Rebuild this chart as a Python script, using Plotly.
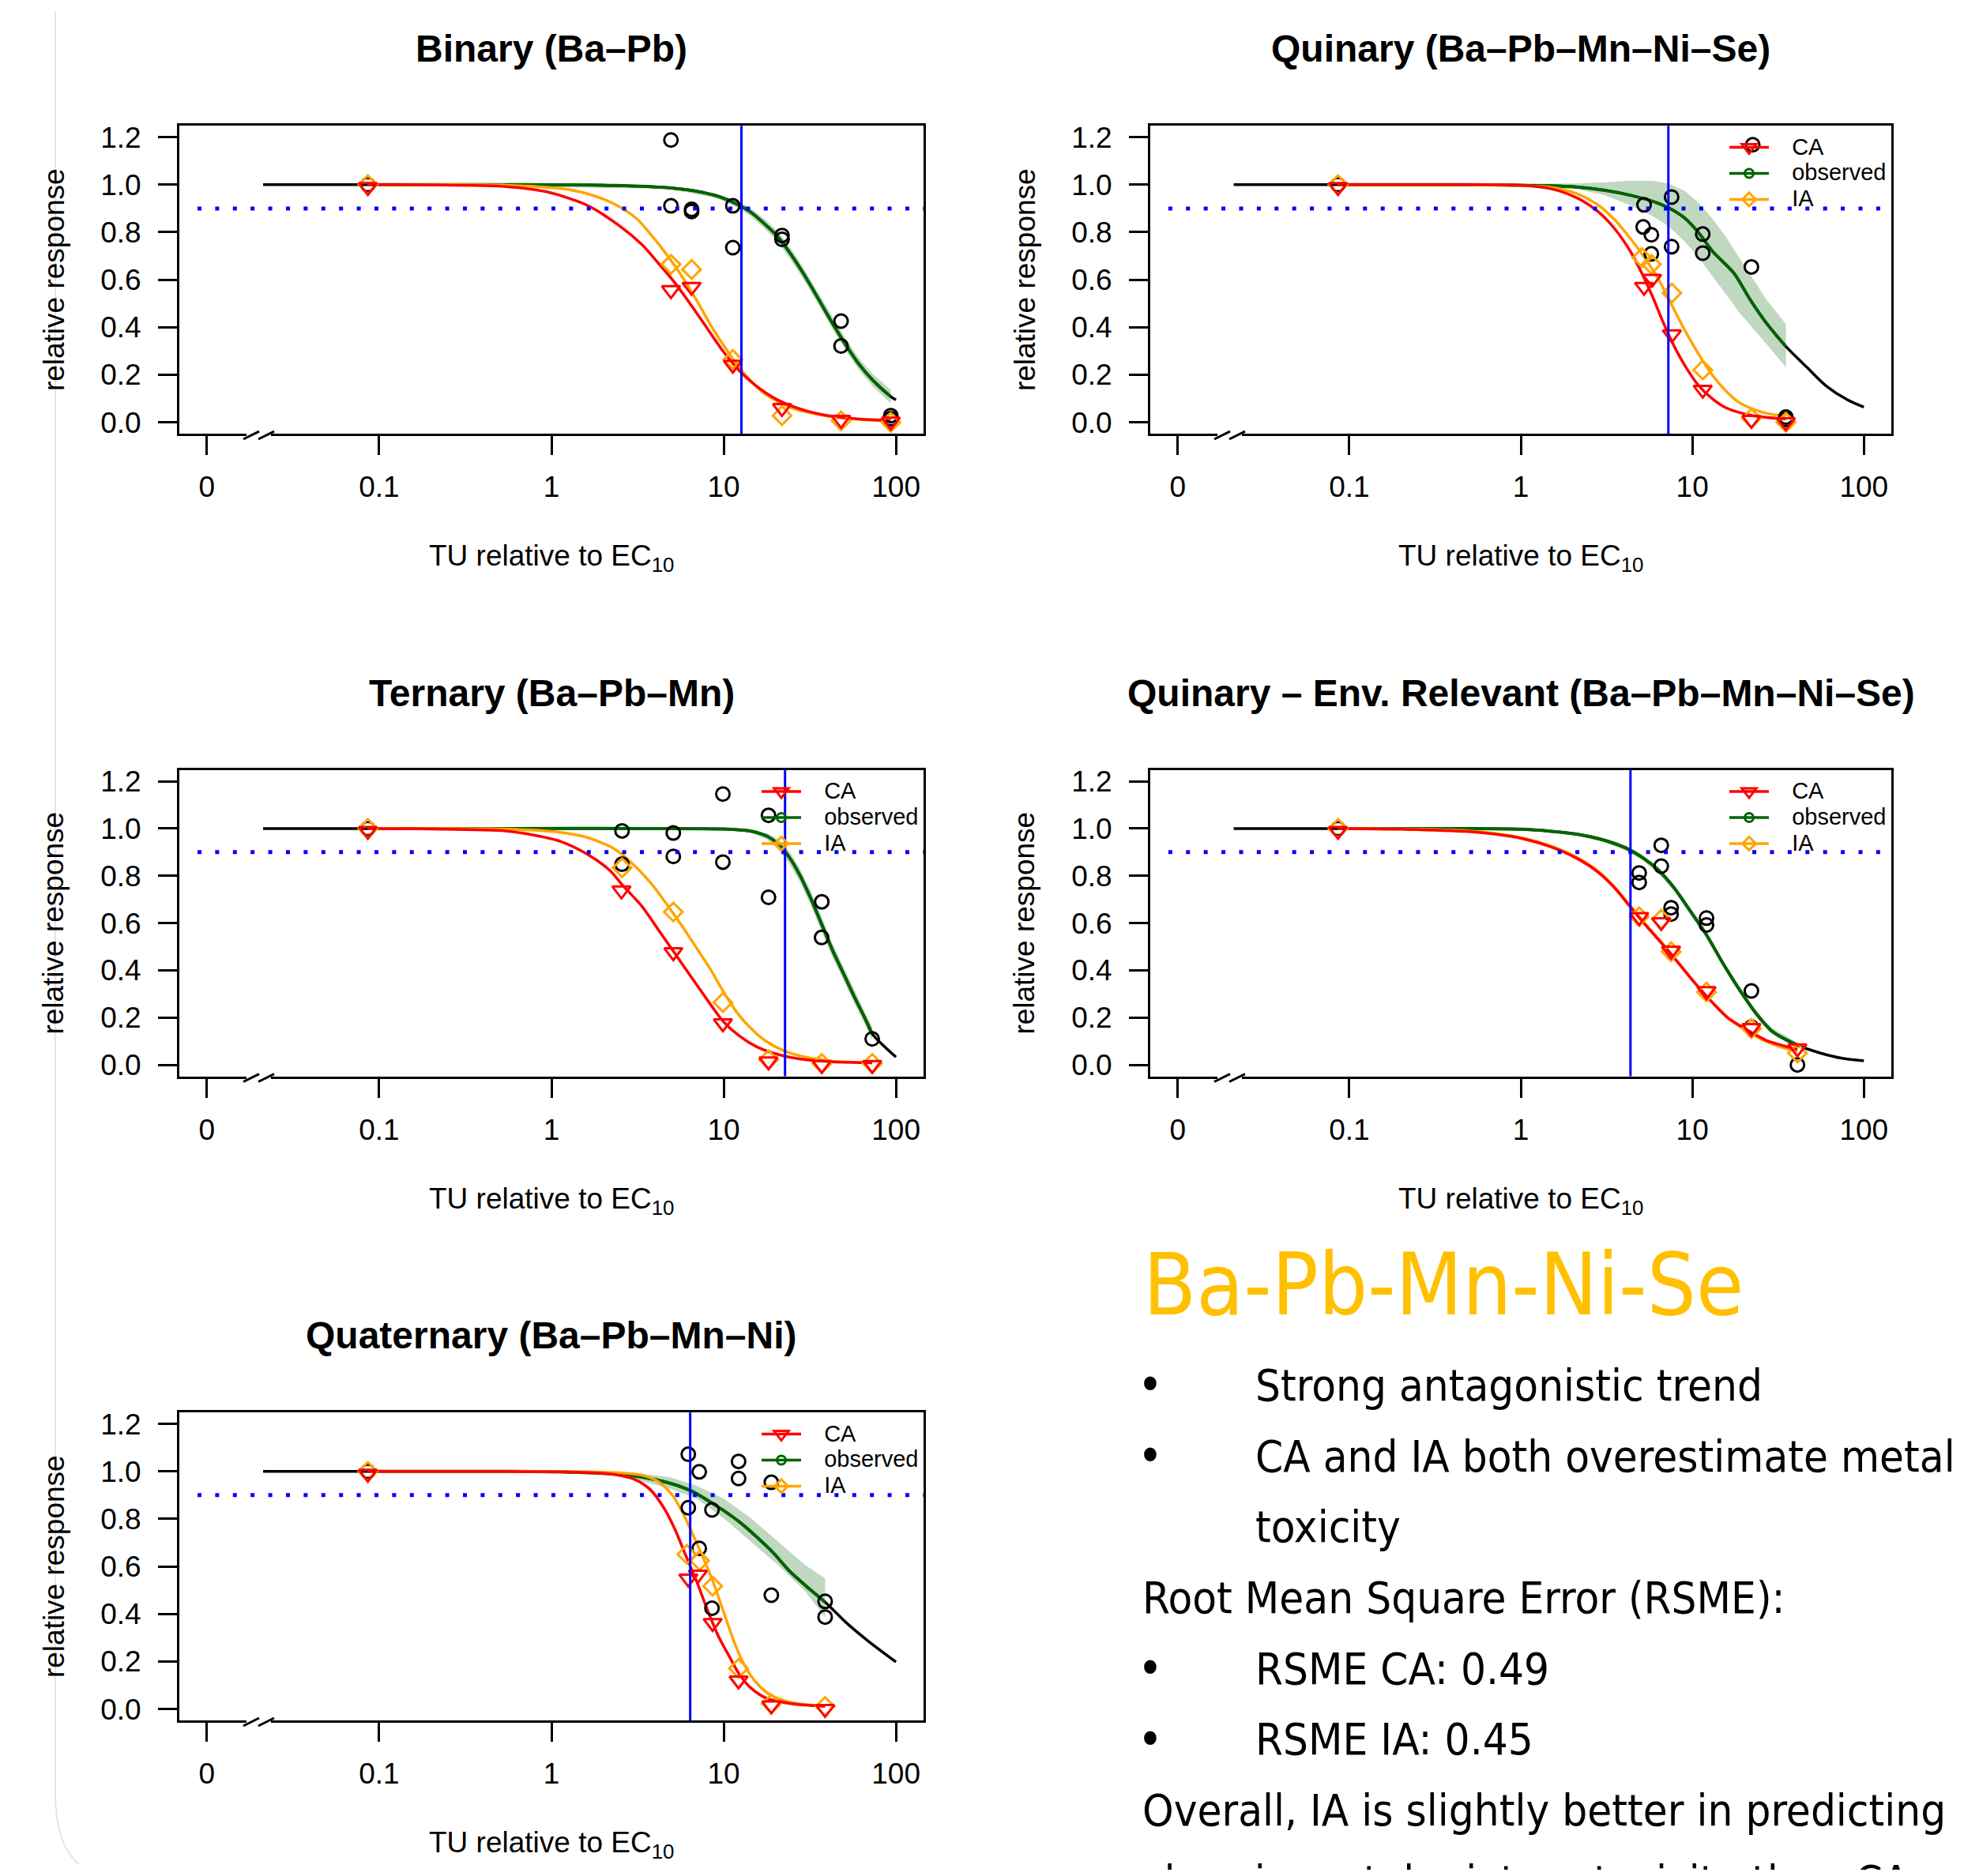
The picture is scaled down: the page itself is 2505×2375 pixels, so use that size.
import plotly.graph_objects as go

# ------------------------------------------------------------------ data
ctrl = 0.086
x_tickvals = [0.01, 0.1, 1, 10, 100]
x_ticktext = ["0", "0.1", "1", "10", "100"]
y_tickvals = [0, 0.2, 0.4, 0.6, 0.8, 1.0, 1.2]
y_ticktext = ["0.0", "0.2", "0.4", "0.6", "0.8", "1.0", "1.2"]

titles = ["Binary (Ba\u2013Pb)", "Quinary (Ba\u2013Pb\u2013Mn\u2013Ni\u2013Se)", "Ternary (Ba\u2013Pb\u2013Mn)",
          "Quinary \u2013 Env. Relevant (Ba\u2013Pb\u2013Mn\u2013Ni\u2013Se)", "Quaternary (Ba\u2013Pb\u2013Mn\u2013Ni)"]
legend_labels = ["CA", "observed", "IA"]

# --- Binary
bin_obs_x = [ctrl, 4.94, 4.94, 6.51, 6.51, 11.3, 11.3, 21.8, 21.8, 48, 48, 93.3, 93.3]
bin_obs_y = [1.0, 1.188, 0.911, 0.896, 0.887, 0.911, 0.735, 0.786, 0.770, 0.426, 0.321, 0.028, 0.015]
bin_ca_x = [ctrl, 4.94, 6.51, 11.3, 21.8, 48, 93.3]
bin_ca_y = [0.99, 0.556, 0.570, 0.242, 0.06, 0.01, 0.003]
bin_ia_x = [ctrl, 4.94, 6.51, 11.3, 21.8, 48, 93.3]
bin_ia_y = [1.0, 0.665, 0.643, 0.264, 0.028, 0.006, 0.0]
bin_ca_curve_x = [ctrl, 0.2, 0.543, 0.937, 1.616, 2.50, 3.346, 4.16, 5.18, 6.44, 8.01, 9.96, 12.4, 15.4, 20.6, 29.6, 42.7, 61.4, 93.3]
bin_ca_curve_y = [1.0, 0.999, 0.992, 0.970, 0.913, 0.825, 0.748, 0.671, 0.589, 0.495, 0.396, 0.297, 0.215, 0.154, 0.094, 0.050, 0.025, 0.014, 0.008]
bin_ia_curve_x = [ctrl, 0.2, 0.543, 1.124, 1.616, 2.326, 3.11, 3.87, 4.81, 5.57, 6.92, 8.61, 10.33, 11.95, 14.3, 17.2, 24.7, 42.7, 93.3]
bin_ia_curve_y = [1.0, 1.0, 0.998, 0.984, 0.962, 0.918, 0.858, 0.781, 0.693, 0.627, 0.517, 0.396, 0.308, 0.242, 0.176, 0.121, 0.061, 0.023, 0.004]
bin_fit_x = [0.0212, ctrl, 0.543, 2.326, 4.81, 6.92, 9.27, 11.95, 14.3, 17.2, 20.6, 24.7, 29.6, 35.6, 42.7, 51.2, 61.4, 73.6, 93.3, 100]
bin_fit_y = [1.0, 1.0, 1.0, 0.997, 0.987, 0.973, 0.951, 0.918, 0.885, 0.836, 0.781, 0.704, 0.616, 0.517, 0.418, 0.325, 0.242, 0.176, 0.108, 0.094]
bin_band_x = [ctrl, 4.81, 9.27, 11.95, 14.3, 17.2, 20.6, 24.7, 29.6, 35.6, 42.7, 51.2, 61.4, 73.6, 93.3]
bin_band_hi = [1.0, 0.991, 0.960, 0.932, 0.902, 0.856, 0.803, 0.728, 0.640, 0.541, 0.442, 0.349, 0.267, 0.202, 0.137]
bin_band_lo = [1.0, 0.983, 0.942, 0.904, 0.868, 0.816, 0.759, 0.680, 0.592, 0.493, 0.394, 0.301, 0.217, 0.150, 0.079]
bin_ec10 = 12.67

# --- Quinary
qui_obs_x = [ctrl, 5.23, 5.17, 5.77, 5.77, 7.57, 7.57, 11.5, 11.5, 22.5, 22.1, 35.1, 35.1]
qui_obs_y = [1.0, 0.915, 0.822, 0.789, 0.709, 0.948, 0.739, 0.792, 0.712, 1.168, 0.654, 0.022, 0.012]
qui_ca_x = [ctrl, 5.23, 5.83, 7.6, 11.5, 22.1, 35.1]
qui_ca_y = [0.99, 0.570, 0.604, 0.37, 0.137, 0.01, 0.0]
qui_ia_x = [ctrl, 5.08, 5.77, 7.6, 11.5, 22.1, 35.1]
qui_ia_y = [1.0, 0.693, 0.665, 0.544, 0.220, 0.017, 0.0]
qui_ca_curve_x = [ctrl, 0.2, 0.496, 1.026, 1.475, 2.12, 2.84, 3.53, 4.39, 5.08, 5.87, 6.79, 7.85, 9.08, 10.9, 13.1, 15.7, 22.5, 35.1]
qui_ca_curve_y = [1.0, 1.0, 1.0, 0.997, 0.984, 0.945, 0.885, 0.814, 0.715, 0.627, 0.528, 0.418, 0.319, 0.237, 0.154, 0.099, 0.061, 0.028, 0.014]
qui_ia_curve_x = [ctrl, 0.2, 0.496, 1.475, 2.12, 2.84, 3.53, 4.39, 5.27, 6.32, 7.57, 9.08, 10.9, 13.1, 15.7, 18.8, 25.1, 35.1]
qui_ia_curve_y = [1.0, 1.0, 1.0, 0.989, 0.962, 0.913, 0.852, 0.770, 0.693, 0.605, 0.495, 0.385, 0.286, 0.198, 0.132, 0.083, 0.044, 0.024]
qui_fit_x = [0.0212, ctrl, 0.496, 1.475, 2.12, 3.05, 4.39, 5.87, 7.30, 9.08, 10.9, 13.1, 17.5, 21.7, 27.0, 35.1, 46.6, 60.1, 80.4, 100]
qui_fit_y = [1.0, 1.0, 1.0, 0.995, 0.990, 0.977, 0.955, 0.930, 0.902, 0.858, 0.797, 0.720, 0.627, 0.517, 0.418, 0.319, 0.231, 0.154, 0.094, 0.064]
qui_band_x = [ctrl, 1.026, 2.12, 3.05, 4.39, 5.87, 7.30, 9.08, 10.9, 13.1, 15.7, 18.8, 22.5, 27.0, 35.1]
qui_band_hi = [1.0, 1.002, 1.005, 1.010, 1.017, 1.016, 1.004, 0.973, 0.923, 0.857, 0.780, 0.692, 0.605, 0.517, 0.413]
qui_band_lo = [1.0, 0.995, 0.981, 0.957, 0.912, 0.868, 0.824, 0.759, 0.693, 0.616, 0.539, 0.462, 0.396, 0.330, 0.231]
qui_ec10 = 7.25

# --- Ternary
ter_obs_x = [ctrl, 2.57, 2.57, 5.10, 5.10, 9.89, 9.89, 18.2, 18.2, 37.1, 37.0, 72.8]
ter_obs_y = [1.0, 0.990, 0.849, 0.981, 0.882, 1.146, 0.858, 1.056, 0.709, 0.690, 0.539, 0.110]
ter_ca_x = [ctrl, 2.55, 5.10, 9.89, 18.2, 37.1, 72.8]
ter_ca_y = [0.99, 0.738, 0.477, 0.176, 0.015, 0.0, 0.0]
ter_ia_x = [ctrl, 2.57, 5.10, 9.89, 18.2, 37.1, 72.8]
ter_ia_y = [1.0, 0.834, 0.647, 0.264, 0.022, 0.006, 0.006]
ter_ca_curve_x = [ctrl, 0.2, 0.542, 0.780, 1.124, 1.618, 2.165, 2.598, 3.352, 4.17, 5.19, 6.45, 8.03, 10.0, 12.4, 15.5, 20.7, 29.8, 42.9, 72.8]
ter_ca_curve_y = [1.0, 0.998, 0.990, 0.973, 0.946, 0.891, 0.825, 0.759, 0.671, 0.572, 0.473, 0.374, 0.275, 0.182, 0.121, 0.077, 0.044, 0.022, 0.013, 0.009]
ter_ia_curve_x = [ctrl, 0.2, 0.542, 1.124, 1.618, 2.33, 3.00, 3.88, 4.83, 5.79, 6.95, 8.34, 10.0, 12.0, 14.4, 17.3, 22.3, 29.8, 42.9, 72.8]
ter_ia_curve_y = [1.0, 1.0, 0.998, 0.984, 0.962, 0.913, 0.847, 0.759, 0.665, 0.583, 0.495, 0.407, 0.308, 0.220, 0.154, 0.104, 0.060, 0.033, 0.016, 0.009]
ter_fit_x = [0.0212, ctrl, 0.542, 3.352, 10.0, 14.4, 17.9, 20.7, 24.0, 27.7, 32.1, 37.1, 42.9, 49.7, 57.5, 66.5, 72.8, 85.8, 100]
ter_fit_y = [1.0, 1.0, 1.0, 1.0, 0.998, 0.989, 0.967, 0.934, 0.879, 0.802, 0.703, 0.594, 0.484, 0.385, 0.286, 0.193, 0.132, 0.077, 0.033]
ter_band_x = [ctrl, 10.0, 14.4, 17.9, 20.7, 24.0, 27.7, 32.1, 37.1, 42.9, 49.7, 57.5, 66.5, 72.8]
ter_band_hi = [1.0, 1.0, 0.995, 0.980, 0.955, 0.905, 0.830, 0.733, 0.623, 0.513, 0.413, 0.313, 0.218, 0.160]
ter_band_lo = [1.0, 0.996, 0.982, 0.952, 0.912, 0.852, 0.774, 0.673, 0.563, 0.453, 0.357, 0.259, 0.168, 0.105]
ter_ec10 = 22.7

# --- Quinary, environmentally relevant
env_obs_x = [ctrl, 6.59, 6.59, 4.90, 4.90, 7.52, 7.52, 12.1, 12.1, 22.1, 22.1, 41.0]
env_obs_y = [1.0, 0.929, 0.841, 0.812, 0.772, 0.665, 0.638, 0.621, 0.592, 0.313, 0.160, 0.0]
env_ca_x = [ctrl, 4.90, 6.59, 7.52, 12.1, 22.1, 41.0]
env_ca_y = [0.99, 0.625, 0.604, 0.483, 0.312, 0.156, 0.07]
env_ia_x = [ctrl, 4.90, 6.59, 7.52, 12.1, 22.1, 41.0]
env_ia_y = [1.0, 0.627, 0.616, 0.479, 0.308, 0.154, 0.050]
env_ca_curve_x = [ctrl, 0.2, 0.496, 0.713, 1.026, 1.475, 2.12, 2.84, 3.53, 4.39, 5.46, 6.79, 8.45, 10.5, 13.1, 16.2, 20.2, 27.0, 41.0]
env_ca_curve_y = [1.0, 0.997, 0.987, 0.976, 0.957, 0.924, 0.874, 0.814, 0.748, 0.665, 0.583, 0.506, 0.424, 0.341, 0.264, 0.198, 0.154, 0.104, 0.066]
env_ia_curve_x = [ctrl, 0.2, 0.496, 0.713, 1.026, 1.475, 2.12, 2.84, 3.53, 4.39, 5.46, 6.79, 8.45, 10.5, 13.1, 16.2, 20.2, 27.0, 41.0]
env_ia_curve_y = [1.0, 0.998, 0.990, 0.979, 0.960, 0.928, 0.878, 0.818, 0.752, 0.669, 0.587, 0.509, 0.426, 0.342, 0.264, 0.196, 0.150, 0.098, 0.056]
env_fit_x = [0.0212, ctrl, 0.496, 1.026, 1.475, 2.12, 3.05, 4.08, 5.08, 6.32, 7.85, 9.77, 12.1, 15.1, 18.8, 23.4, 29.1, 41.0, 55.9, 74.8, 100]
env_fit_y = [1.0, 1.0, 1.0, 0.997, 0.989, 0.976, 0.951, 0.918, 0.879, 0.825, 0.748, 0.649, 0.550, 0.429, 0.319, 0.220, 0.143, 0.083, 0.050, 0.028, 0.017]
env_band_x = [ctrl, 1.026, 2.12, 3.05, 4.08, 5.08, 6.32, 7.85, 9.77, 12.1, 15.1, 18.8, 23.4, 29.1, 41.0]
env_band_hi = [1.0, 1.0, 0.982, 0.960, 0.929, 0.891, 0.838, 0.761, 0.663, 0.563, 0.442, 0.332, 0.233, 0.156, 0.095]
env_band_lo = [1.0, 0.994, 0.970, 0.942, 0.907, 0.867, 0.812, 0.735, 0.635, 0.537, 0.416, 0.306, 0.207, 0.130, 0.071]
env_ec10 = 4.36

# --- Quaternary
qua_obs_x = [ctrl, 6.23, 6.23, 7.21, 7.21, 8.55, 8.55, 12.2, 12.2, 18.9, 18.9, 38.8, 38.8]
qua_obs_y = [1.0, 1.072, 0.847, 0.998, 0.676, 0.838, 0.424, 1.042, 0.970, 0.954, 0.479, 0.453, 0.387]
qua_ca_x = [ctrl, 6.23, 7.08, 8.63, 12.2, 18.9, 38.8]
qua_ca_y = [0.99, 0.549, 0.565, 0.362, 0.12, 0.015, 0.0]
qua_ia_x = [ctrl, 6.11, 7.25, 8.63, 12.2, 18.9, 38.8]
qua_ia_y = [1.0, 0.651, 0.624, 0.517, 0.171, 0.022, 0.011]
qua_ca_curve_x = [ctrl, 0.2, 0.542, 1.618, 2.33, 3.00, 3.74, 4.49, 5.19, 6.00, 6.95, 8.04, 9.29, 10.8, 12.4, 14.4, 17.9, 24.9, 38.8]
qua_ca_curve_y = [1.0, 1.0, 1.0, 0.995, 0.987, 0.968, 0.924, 0.847, 0.759, 0.649, 0.539, 0.418, 0.308, 0.220, 0.143, 0.088, 0.044, 0.022, 0.011]
qua_ia_curve_x = [ctrl, 0.2, 0.542, 2.33, 3.352, 4.17, 5.01, 5.79, 6.70, 7.47, 8.64, 10.0, 11.6, 13.4, 15.5, 18.6, 24.9, 38.8]
qua_ia_curve_y = [1.0, 1.0, 1.0, 0.995, 0.984, 0.957, 0.902, 0.825, 0.726, 0.649, 0.539, 0.407, 0.275, 0.176, 0.110, 0.060, 0.027, 0.013]
qua_fit_x = [0.0212, ctrl, 0.542, 1.124, 2.33, 3.352, 4.83, 6.46, 8.04, 10.0, 12.4, 15.5, 19.3, 24.0, 29.8, 38.8, 51.5, 69.0, 100]
qua_fit_y = [1.0, 1.0, 1.0, 0.998, 0.989, 0.976, 0.951, 0.918, 0.879, 0.835, 0.786, 0.725, 0.659, 0.582, 0.520, 0.450, 0.363, 0.286, 0.198]
qua_band_x = [ctrl, 1.124, 2.33, 3.352, 4.83, 6.95, 10.0, 14.4, 20.7, 29.8, 38.8]
qua_band_hi = [1.0, 1.0, 0.995, 0.990, 0.976, 0.940, 0.885, 0.803, 0.704, 0.605, 0.550]
qua_band_lo = [1.0, 0.993, 0.981, 0.959, 0.929, 0.885, 0.803, 0.704, 0.605, 0.495, 0.385]
qua_ec10 = 6.39

# text block
note_title = "Ba-Pb-Mn-Ni-Se"
note_lines = [
    ("\u2022", "Strong antagonistic trend"),
    ("\u2022", "CA and IA both overestimate metal"),
    ("", "toxicity"),
    (None, "Root Mean Square Error (RSME):"),
    ("\u2022", "RSME CA: 0.49"),
    ("\u2022", "RSME IA: 0.45"),
    (None, "Overall, IA is slightly better in predicting"),
    (None, "chronic metal mixture toxicity than CA"),
]

# ------------------------------------------------------------------ layout constants
SW, SH = 2505, 2375          # browser window
OFF = 8                      # default page margin around the plot div
W, H = SW - 2 * OFF, SH - 2 * OFF
FONT = "Liberation Sans, Arial, Helvetica, sans-serif"
NOTE_FONT = "DejaVu Sans Condensed, Liberation Sans, sans-serif"
RED, ORANGE, GREEN, BLUE = "#FF0000", "#FFA500", "#006400", "#0000FF"

panels = [
    dict(obs=(bin_obs_x, bin_obs_y), ca=(bin_ca_x, bin_ca_y), ia=(bin_ia_x, bin_ia_y),
         cac=(bin_ca_curve_x, bin_ca_curve_y), iac=(bin_ia_curve_x, bin_ia_curve_y),
         fit=(bin_fit_x, bin_fit_y), band=(bin_band_x, bin_band_lo, bin_band_hi), ec10=bin_ec10,
         box=(227, 1169, 154, 546), legend=None),
    dict(obs=(qui_obs_x, qui_obs_y), ca=(qui_ca_x, qui_ca_y), ia=(qui_ia_x, qui_ia_y),
         cac=(qui_ca_curve_x, qui_ca_curve_y), iac=(qui_ia_curve_x, qui_ia_curve_y),
         fit=(qui_fit_x, qui_fit_y), band=(qui_band_x, qui_band_lo, qui_band_hi), ec10=qui_ec10,
         box=(1456, 2394, 154, 546), legend="legend"),
    dict(obs=(ter_obs_x, ter_obs_y), ca=(ter_ca_x, ter_ca_y), ia=(ter_ia_x, ter_ia_y),
         cac=(ter_ca_curve_x, ter_ca_curve_y), iac=(ter_ia_curve_x, ter_ia_curve_y),
         fit=(ter_fit_x, ter_fit_y), band=(ter_band_x, ter_band_lo, ter_band_hi), ec10=ter_ec10,
         box=(227, 1169, 974, 1364), legend="legend2"),
    dict(obs=(env_obs_x, env_obs_y), ca=(env_ca_x, env_ca_y), ia=(env_ia_x, env_ia_y),
         cac=(env_ca_curve_x, env_ca_curve_y), iac=(env_ia_curve_x, env_ia_curve_y),
         fit=(env_fit_x, env_fit_y), band=(env_band_x, env_band_lo, env_band_hi), ec10=env_ec10,
         box=(1456, 2394, 974, 1364), legend="legend3"),
    dict(obs=(qua_obs_x, qua_obs_y), ca=(qua_ca_x, qua_ca_y), ia=(qua_ia_x, qua_ia_y),
         cac=(qua_ca_curve_x, qua_ca_curve_y), iac=(qua_ia_curve_x, qua_ia_curve_y),
         fit=(qua_fit_x, qua_fit_y), band=(qua_band_x, qua_band_lo, qua_band_hi), ec10=qua_ec10,
         box=(227, 1169, 1792, 2184), legend="legend4"),
]


def px(x):
    return (x - OFF) / W


def py(y):
    return 1 - (y - OFF) / H


fig = go.Figure()
shapes = []
annotations = []
layout_axes = {}
legends = {}
LEG_PAD = "\u00a0\u00a0\u00a0"

for i, p in enumerate(panels):
    s = "" if i == 0 else str(i + 1)
    xa, ya = "x" + s, "y" + s
    x0, x1, y0, y1 = p["box"]
    common = dict(showgrid=False, zeroline=False, showline=True, mirror=True, linecolor="black",
                  linewidth=3, ticks="outside", ticklen=24, tickwidth=3, tickcolor="black",
                  tickfont=dict(family=FONT, size=37, color="black"))
    layout_axes["xaxis" + s] = dict(common, type="log", range=[-2.16, 2.16], domain=[px(x0), px(x1)],
                                    anchor=ya, tickmode="array", tickvals=x_tickvals,
                                    ticktext=x_ticktext, ticklabelstandoff=9)
    layout_axes["yaxis" + s] = dict(common, range=[-0.048, 1.248], domain=[py(y1), py(y0)],
                                    anchor=xa, tickmode="array", tickvals=y_tickvals,
                                    ticktext=y_ticktext, ticklabelstandoff=14)

    bx, blo, bhi = p["band"]
    fx, fy = p["fit"]
    ox, oy = p["obs"]
    xmax = max(ox)
    gx = [v for v in fx if ctrl <= v <= xmax]
    gy = [fy[k] for k, v in enumerate(fx) if ctrl <= v <= xmax]
    spl = dict(shape="spline", smoothing=0.8)

    fig.add_trace(go.Scatter(x=bx + bx[::-1], y=bhi + blo[::-1], fill="toself",
                             fillcolor="rgba(0,100,0,0.25)", line=dict(width=0), mode="lines",
                             xaxis=xa, yaxis=ya, showlegend=False, hoverinfo="skip"))
    fig.add_trace(go.Scatter(x=fx, y=fy, mode="lines", line=dict(color="black", width=3.5, **spl),
                             xaxis=xa, yaxis=ya, showlegend=False))
    fig.add_trace(go.Scatter(x=gx, y=gy, mode="lines", line=dict(color=GREEN, width=4, **spl),
                             xaxis=xa, yaxis=ya, showlegend=False))
    fig.add_trace(go.Scatter(x=p["iac"][0], y=p["iac"][1], mode="lines",
                             line=dict(color=ORANGE, width=3.5, **spl),
                             xaxis=xa, yaxis=ya, showlegend=False))
    fig.add_trace(go.Scatter(x=p["cac"][0], y=p["cac"][1], mode="lines",
                             line=dict(color=RED, width=3.5, **spl),
                             xaxis=xa, yaxis=ya, showlegend=False))
    fig.add_trace(go.Scatter(x=ox, y=oy, mode="markers",
                             marker=dict(symbol="circle-open", size=17, color="black",
                                         line=dict(width=3, color="black")),
                             xaxis=xa, yaxis=ya, showlegend=False))
    fig.add_trace(go.Scatter(x=p["ia"][0], y=p["ia"][1], mode="markers",
                             marker=dict(symbol="diamond-open", size=18, color=ORANGE,
                                         line=dict(width=3, color=ORANGE)),
                             xaxis=xa, yaxis=ya, showlegend=False))
    fig.add_trace(go.Scatter(x=p["ca"][0], y=p["ca"][1], mode="markers",
                             marker=dict(symbol="triangle-down-open", size=20, color=RED,
                                         line=dict(width=3, color=RED)),
                             xaxis=xa, yaxis=ya, showlegend=False))

    if p["legend"]:
        styles = [(RED, "triangle-down-open", 16), (GREEN, "circle-open", 11), (ORANGE, "diamond-open", 13)]
        for lab, (col, sym, sz) in zip(legend_labels, styles):
            fig.add_trace(go.Scatter(x=[None], y=[None], mode="lines+markers",
                                     name='<span style="font-size:29px">' + LEG_PAD + lab + "</span>",
                                     line=dict(color=col, width=3.5),
                                     marker=dict(symbol=sym, size=sz, color=col, line=dict(width=3, color=col)),
                                     xaxis=xa, yaxis=ya, showlegend=True, legend=p["legend"]))
        legends[p["legend"]] = dict(x=px(x1 - 210), xanchor="left", y=py(y0 + 6), yanchor="top",
                                    bgcolor="rgba(0,0,0,0)", borderwidth=0, itemwidth=50,
                                    font=dict(family=FONT, size=23, color="black"),
                                    tracegroupgap=0, itemclick=False)

    # reference lines
    shapes.append(dict(type="line", xref=xa + " domain", yref=ya, x0=0.0244, x1=1, y0=0.9, y1=0.9,
                       line=dict(color=BLUE, width=5, dash="5px,17.4px"), layer="above"))
    shapes.append(dict(type="line", xref=xa, yref=ya + " domain", x0=p["ec10"], x1=p["ec10"], y0=0, y1=1,
                       line=dict(color=BLUE, width=3), layer="above"))
    # axis break
    bw = x1 - x0
    bh = y1 - y0
    shapes.append(dict(type="line", xref=xa + " domain", yref=ya + " domain",
                       x0=(312 - 227) / bw, x1=(343 - 227) / bw, y0=-2 / bh, y1=-2 / bh,
                       line=dict(color="white", width=7), layer="above"))
    for sx in (308, 327):
        shapes.append(dict(type="line", xref=xa + " domain", yref=ya + " domain",
                           x0=(sx - 227) / bw, x1=(sx + 20 - 227) / bw, y0=-7 / bh, y1=3 / bh,
                           line=dict(color="black", width=3), layer="above"))

    # titles
    cx = (x0 + x1) / 2
    annotations.append(dict(text="<b>" + titles[i] + "</b>", x=px(cx), y=py(y0 - 98), xref="paper",
                            yref="paper", showarrow=False, xanchor="center", yanchor="middle",
                            font=dict(family=FONT, size=48, color="black")))
    annotations.append(dict(text="TU relative to EC<sub>10</sub>", x=px(cx), y=py(y1 + 158), xref="paper",
                            yref="paper", showarrow=False, xanchor="center", yanchor="middle",
                            font=dict(family=FONT, size=37, color="black")))
    annotations.append(dict(text="relative response", x=px(x0 - 159), y=py((y0 + y1) / 2), xref="paper",
                            yref="paper", showarrow=False, xanchor="center", yanchor="middle",
                            textangle=-90, font=dict(family=FONT, size=37, color="black")))

# text block
annotations.append(dict(text=note_title, x=px(1445), y=py(1629), xref="paper", yref="paper",
                        showarrow=False, xanchor="left", yanchor="middle",
                        font=dict(family=NOTE_FONT, size=109, color="#FFC000")))
base_y = 1757
for k, (bullet, txt) in enumerate(note_lines):
    yy = base_y + k * 90.2
    if bullet is None:
        annotations.append(dict(text=txt, x=px(1444), y=py(yy), xref="paper", yref="paper",
                                showarrow=False, xanchor="left", yanchor="middle",
                                font=dict(family=NOTE_FONT, size=56, color="black")))
    else:
        if bullet:
            annotations.append(dict(text=bullet, x=px(1456), y=py(yy), xref="paper", yref="paper",
                                    showarrow=False, xanchor="center", yanchor="middle",
                                    font=dict(family=NOTE_FONT, size=60, color="black")))
        annotations.append(dict(text=txt, x=px(1587), y=py(yy), xref="paper", yref="paper",
                                showarrow=False, xanchor="left", yanchor="middle",
                                font=dict(family=NOTE_FONT, size=56, color="black")))

# faint card edge
shapes.append(dict(type="path", xref="paper", yref="paper", layer="below",
                   path=f"M {px(70)},{py(OFF)} L {px(70)},{py(2283)} Q {px(72)},{py(2345)} {px(100)},{py(SH - OFF)}",
                   line=dict(color="#e4e4e4", width=2)))

fig.update_layout(width=W, height=H, autosize=False, margin=dict(l=0, r=0, t=0, b=0),
                  paper_bgcolor="white", plot_bgcolor="white", shapes=shapes,
                  annotations=annotations, **layout_axes, **legends)

fig.write_html("out.html")
